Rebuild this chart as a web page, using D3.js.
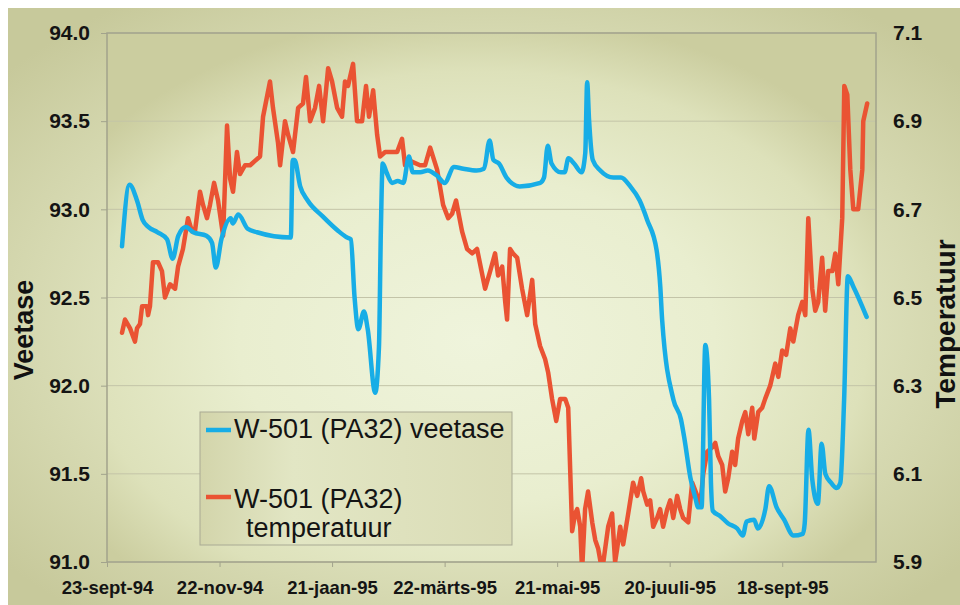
<!DOCTYPE html>
<html>
<head>
<meta charset="utf-8">
<script src="https://cdn.jsdelivr.net/npm/d3@7.9.0/dist/d3.min.js"></script>
<style>
  html, body { margin: 0; padding: 0; background: #ffffff; }
  svg { display: block; font-family: "Liberation Sans", Arial, sans-serif; }
</style>
</head>
<body>
<svg id="chart" width="960" height="605"></svg>
<script>
// series start date, all day offsets below count from it
const startDate = "1994-09-23";
const endDay = 410;

const xTickDates = ["1994-09-23", "1994-11-22", "1995-01-21", "1995-03-22", "1995-05-21", "1995-07-20", "1995-09-18"];
const xTickLabels = ["23-sept-94", "22-nov-94", "21-jaan-95", "22-märts-95", "21-mai-95", "20-juuli-95", "18-sept-95"];
const leftTicks = [91.0, 91.5, 92.0, 92.5, 93.0, 93.5, 94.0];
const rightTicks = [5.9, 6.1, 6.3, 6.5, 6.7, 6.9, 7.1];

const levelName = "W-501 (PA32) veetase";
const tempName = ["W-501 (PA32)", "temperatuur"];

// W-501 water level (left axis)
const levelDays = [8, 12, 16, 19, 22, 27, 32, 35, 38, 42, 46, 53, 56, 58, 61, 66, 67, 70, 75, 80,
  98, 99, 100, 103, 107, 115, 123, 128, 130, 132, 134, 137, 139, 143, 145, 146, 147, 149, 152, 155,
  158, 161, 163, 167, 171, 176, 180, 185, 190, 197, 201, 204, 206, 209, 213, 220, 231, 233, 235, 237,
  242, 244, 246, 249, 253, 255, 256, 257, 259, 263, 270, 274, 279, 284, 288, 293, 295, 296, 302, 306,
  308, 311, 314, 315, 317, 319, 321, 322, 323, 327, 331, 336, 339, 341, 345, 347, 351, 353, 357, 361,
  366, 371, 372, 374, 376, 379, 381, 383, 386, 389, 391, 393, 395, 398, 405];
const levelValues = [92.79, 93.14, 93.05, 92.94, 92.90, 92.87, 92.83, 92.72, 92.85, 92.90, 92.87, 92.85, 92.81, 92.67, 92.83, 92.95, 92.92, 92.97, 92.89, 92.87,
  92.84, 93.28, 93.28, 93.13, 93.05, 92.96, 92.88, 92.84, 92.83, 92.50, 92.32, 92.42, 92.32, 91.96, 92.22, 92.87, 93.26, 93.21, 93.15, 93.16,
  93.15, 93.30, 93.21, 93.21, 93.22, 93.19, 93.15, 93.24, 93.23, 93.22, 93.23, 93.39, 93.28, 93.26, 93.18, 93.13, 93.15, 93.18, 93.36, 93.26,
  93.21, 93.21, 93.29, 93.26, 93.21, 93.32, 93.72, 93.51, 93.28, 93.22, 93.18, 93.18, 93.13, 93.05, 92.94, 92.77, 92.56, 92.37, 91.92, 91.81,
  91.69, 91.48, 91.35, 91.31, 91.31, 92.23, 91.92, 91.45, 91.29, 91.26, 91.22, 91.19, 91.15, 91.23, 91.24, 91.19, 91.30, 91.43, 91.31, 91.24,
  91.15, 91.16, 91.22, 91.75, 91.47, 91.33, 91.67, 91.50, 91.45, 91.42, 91.45, 91.92, 92.62, 92.56, 92.39];

// W-501 temperature (right axis)
const tempDays = [8.0, 9.6, 12.3, 14.9, 16.0, 17.6, 18.7, 21.3, 21.9, 22.9, 24.5, 27.2, 29.3, 30.9, 33.6, 36.3, 37.9, 40.5, 43.2, 45.3,
  46.9, 49.6, 51.2, 53.3, 54.9, 57.1, 59.2, 61.9, 64.0, 65.6, 67.2, 69.3, 70.9, 73.6, 76.3, 78.9, 81.6, 83.2, 86.9, 88.5,
  91.2, 92.3, 94.9, 96.5, 99.2, 101.9, 104.5, 106.1, 108.3, 110.9, 113.1, 115.2, 117.9, 120.0, 122.7, 125.3, 126.9, 128.5, 131.2, 133.3,
  136.0, 138.1, 139.7, 141.9, 144.0, 145.6, 148.3, 152.0, 154.7, 157.3, 158.9, 161.6, 166.9, 169.6, 172.3, 176.0, 179.2, 181.9, 184.0, 186.1,
  189.3, 192.0, 194.7, 197.3, 201.6, 204.3, 206.9, 208.5, 210.7, 212.3, 213.3, 214.9, 216.5, 218.7, 221.3, 224.0, 226.7, 228.3, 230.9, 233.6,
  235.2, 237.3, 239.5, 241.6, 244.3, 245.9, 248.0, 249.6, 250.7, 252.3, 253.3, 254.9, 256.5, 258.7, 260.3, 261.9, 264.0, 265.6, 267.2, 269.3,
  270.9, 272.0, 273.6, 275.2, 277.9, 280.5, 282.7, 284.8, 285.9, 288.0, 289.6, 291.2, 293.3, 294.9, 296.5, 298.7, 300.3, 301.9, 304.0, 305.6,
  307.2, 309.9, 312.0, 314.7, 316.3, 317.9, 320.0, 322.7, 324.3, 325.9, 328.0, 329.6, 331.2, 333.3, 334.9, 336.5, 338.7, 340.3, 341.9, 344.0,
  345.1, 347.2, 349.3, 350.9, 353.6, 356.3, 357.9, 360.0, 362.1, 364.3, 365.9, 368.5, 370.7, 372.3, 373.9, 376.0, 377.6, 379.2, 381.3, 382.9,
  384.5, 386.7, 388.3, 389.9, 392.0, 393.1, 394.7, 396.3, 397.9, 400.5, 402.7, 403.2, 405.3];
const tempValues = [6.42, 6.45, 6.43, 6.40, 6.43, 6.44, 6.48, 6.48, 6.46, 6.48, 6.58, 6.58, 6.56, 6.50, 6.53, 6.52, 6.57, 6.61, 6.68, 6.65,
  6.65, 6.74, 6.71, 6.68, 6.71, 6.76, 6.72, 6.64, 6.89, 6.77, 6.74, 6.83, 6.78, 6.80, 6.80, 6.81, 6.82, 6.91, 6.99, 6.93,
  6.85, 6.80, 6.90, 6.87, 6.83, 6.93, 6.94, 7.00, 6.90, 6.93, 6.98, 6.90, 7.02, 6.99, 6.93, 6.91, 6.99, 6.98, 7.03, 6.90,
  6.90, 6.98, 6.91, 6.97, 6.87, 6.82, 6.83, 6.83, 6.83, 6.86, 6.80, 6.81, 6.80, 6.80, 6.84, 6.79, 6.71, 6.68, 6.69, 6.72,
  6.65, 6.61, 6.60, 6.61, 6.52, 6.56, 6.60, 6.55, 6.57, 6.49, 6.45, 6.61, 6.60, 6.59, 6.52, 6.46, 6.54, 6.44, 6.39, 6.36,
  6.33, 6.27, 6.22, 6.27, 6.27, 6.25, 5.97, 6.01, 6.02, 5.98, 5.88, 6.02, 6.06, 5.99, 5.95, 5.93, 5.88, 5.93, 5.98, 6.01,
  5.90, 5.93, 5.98, 5.94, 6.01, 6.08, 6.05, 6.09, 6.06, 6.03, 6.04, 5.98, 6.00, 6.02, 5.98, 6.02, 6.04, 6.00, 6.05, 6.02,
  6.00, 5.99, 6.08, 6.05, 6.03, 6.10, 6.15, 6.16, 6.17, 6.14, 6.12, 6.06, 6.09, 6.15, 6.12, 6.18, 6.22, 6.24, 6.19, 6.25,
  6.18, 6.24, 6.25, 6.27, 6.30, 6.35, 6.32, 6.38, 6.37, 6.43, 6.40, 6.46, 6.49, 6.46, 6.68, 6.52, 6.47, 6.49, 6.59, 6.47,
  6.56, 6.56, 6.60, 6.53, 6.68, 6.98, 6.96, 6.79, 6.70, 6.70, 6.79, 6.90, 6.94];

const blue = "#17ade6";
const red = "#ea5333";

const plot = { left: 107, right: 876, top: 33, bottom: 562 };
const parseDate = d3.utcParse("%Y-%m-%d");
const start = parseDate(startDate);
const dayToDate = (d) => new Date(start.getTime() + d * 864e5);

const x = d3.scaleUtc().domain([start, dayToDate(endDay)]).range([plot.left, plot.right]);
const yLeft = d3.scaleLinear().domain([91, 94]).range([plot.bottom, plot.top]);
const yRight = d3.scaleLinear().domain([5.9, 7.1]).range([plot.bottom, plot.top]);

const levelData = d3.zip(levelDays, levelValues).map(([d, v]) => ({ date: dayToDate(d), value: v }));
const tempData = d3.zip(tempDays, tempValues).map(([d, v]) => ({ date: dayToDate(d), value: v }));

const svg = d3.select("#chart");
const defs = svg.append("defs");

const outerGrad = defs.append("radialGradient").attr("id", "outerBg")
  .attr("cx", "50%").attr("cy", "52%").attr("r", "65%");
outerGrad.append("stop").attr("offset", "0%").attr("stop-color", "#eef2d8");
outerGrad.append("stop").attr("offset", "50%").attr("stop-color", "#e2e6c3");
outerGrad.append("stop").attr("offset", "100%").attr("stop-color", "#c7c99b");

const plotGrad = defs.append("radialGradient").attr("id", "plotBg")
  .attr("cx", "48%").attr("cy", "58%").attr("r", "62%");
plotGrad.append("stop").attr("offset", "0%").attr("stop-color", "#eff4dc");
plotGrad.append("stop").attr("offset", "50%").attr("stop-color", "#e9eecf");
plotGrad.append("stop").attr("offset", "82%").attr("stop-color", "#dde1ba");
plotGrad.append("stop").attr("offset", "100%").attr("stop-color", "#cbcd9f");

const legendGrad = defs.append("linearGradient").attr("id", "legendBg")
  .attr("x1", "0%").attr("x2", "100%").attr("y1", "0%").attr("y2", "0%");
legendGrad.append("stop").attr("offset", "0%").attr("stop-color", "#d3d5ab");
legendGrad.append("stop").attr("offset", "30%").attr("stop-color", "#e2e6c4");
legendGrad.append("stop").attr("offset", "100%").attr("stop-color", "#dadcb6");

defs.append("clipPath").attr("id", "plotClip")
  .append("rect")
  .attr("x", plot.left).attr("y", plot.top)
  .attr("width", plot.right - plot.left).attr("height", plot.bottom - plot.top);

svg.append("rect")
  .attr("x", 8).attr("y", 8).attr("width", 952).attr("height", 597)
  .attr("fill", "url(#outerBg)");

svg.append("rect")
  .attr("x", plot.left).attr("y", plot.top)
  .attr("width", plot.right - plot.left).attr("height", plot.bottom - plot.top)
  .attr("fill", "url(#plotBg)");

// gridlines
svg.append("g")
  .selectAll("line")
  .data(leftTicks)
  .join("line")
  .attr("x1", plot.left).attr("x2", plot.right)
  .attr("y1", (d) => yLeft(d)).attr("y2", (d) => yLeft(d))
  .attr("stroke", "#c3c4a8").attr("stroke-width", 1);

svg.append("rect")
  .attr("x", plot.left).attr("y", plot.top)
  .attr("width", plot.right - plot.left).attr("height", plot.bottom - plot.top)
  .attr("fill", "none").attr("stroke", "#a2a38c").attr("stroke-width", 1.5);

// left axis
const leftAxis = svg.append("g")
  .attr("transform", `translate(${plot.left},0)`)
  .call(d3.axisLeft(yLeft).tickValues(leftTicks).tickFormat(d3.format(".1f")).tickSize(6).tickPadding(11));
leftAxis.select(".domain").remove();
leftAxis.selectAll("line").attr("stroke", "#a2a38c");
leftAxis.selectAll("text")
  .attr("font-size", 21).attr("font-weight", "bold").attr("fill", "#141414")
  .attr("font-family", "Liberation Sans, Arial, sans-serif");

// right axis
const rightAxis = svg.append("g")
  .attr("transform", `translate(${plot.right},0)`)
  .call(d3.axisRight(yRight).tickValues(rightTicks).tickFormat(d3.format(".1f")).tickSize(0).tickPadding(17));
rightAxis.select(".domain").remove();
rightAxis.selectAll("text")
  .attr("font-size", 21).attr("font-weight", "bold").attr("fill", "#141414")
  .attr("font-family", "Liberation Sans, Arial, sans-serif");

// bottom axis
const bottomAxis = svg.append("g")
  .attr("transform", `translate(0,${plot.bottom})`)
  .call(d3.axisBottom(x)
    .tickValues(xTickDates.map(parseDate))
    .tickFormat((d, i) => xTickLabels[i])
    .tickSize(5).tickPadding(14));
bottomAxis.select(".domain").remove();
bottomAxis.selectAll("line").attr("stroke", "#a2a38c");
bottomAxis.selectAll("text")
  .attr("font-size", 18.5).attr("font-weight", "bold").attr("fill", "#141414")
  .attr("font-family", "Liberation Sans, Arial, sans-serif");

// axis titles
svg.append("text")
  .attr("transform", "translate(33,330) rotate(-90)")
  .attr("text-anchor", "middle")
  .attr("font-size", 27).attr("font-weight", "bold").attr("fill", "#111")
  .text("Veetase");

svg.append("text")
  .attr("transform", "translate(955,324) rotate(-90)")
  .attr("text-anchor", "middle")
  .attr("font-size", 28).attr("font-weight", "bold").attr("fill", "#111")
  .text("Temperatuur");

// series
const lines = svg.append("g").attr("clip-path", "url(#plotClip)");

lines.append("path")
  .datum(tempData)
  .attr("fill", "none")
  .attr("stroke", red)
  .attr("stroke-width", 4.5)
  .attr("stroke-linejoin", "round")
  .attr("stroke-linecap", "round")
  .attr("d", d3.line().x((d) => x(d.date)).y((d) => yRight(d.value)));

lines.append("path")
  .datum(levelData)
  .attr("fill", "none")
  .attr("stroke", blue)
  .attr("stroke-width", 4.5)
  .attr("stroke-linejoin", "round")
  .attr("stroke-linecap", "round")
  .attr("d", d3.line().curve(d3.curveMonotoneX).x((d) => x(d.date)).y((d) => yLeft(d.value)));

// legend
const legend = svg.append("g");
legend.append("rect")
  .attr("x", 200).attr("y", 412).attr("width", 312).attr("height", 133)
  .attr("fill", "url(#legendBg)")
  .attr("stroke", "#a9aa94").attr("stroke-width", 1);

legend.append("line")
  .attr("x1", 206).attr("x2", 231).attr("y1", 430).attr("y2", 430)
  .attr("stroke", blue).attr("stroke-width", 4.5);
legend.append("text")
  .attr("x", 234).attr("y", 438)
  .attr("font-size", 27).attr("fill", "#141414")
  .text(levelName);

legend.append("line")
  .attr("x1", 206).attr("x2", 231).attr("y1", 497).attr("y2", 497)
  .attr("stroke", red).attr("stroke-width", 4.5);
legend.append("text")
  .attr("x", 234).attr("y", 508)
  .attr("font-size", 27).attr("fill", "#141414")
  .selectAll("tspan")
  .data(tempName)
  .join("tspan")
  .attr("x", (d, i) => (i === 0 ? 234 : 246))
  .attr("dy", (d, i) => (i === 0 ? 0 : 29))
  .text((d) => d);
</script>
</body>
</html>
